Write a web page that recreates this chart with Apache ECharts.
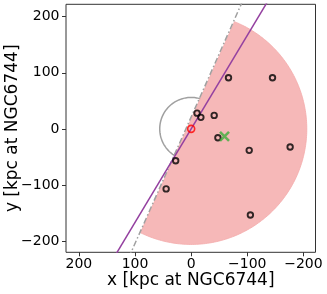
<!DOCTYPE html>
<html>
<head>
<meta charset="utf-8">
<script src="https://cdn.jsdelivr.net/npm/echarts@6/dist/echarts.min.js"></script>
<style>html,body{margin:0;padding:0;background:#fff;}#c{width:327px;height:294px;}</style>
</head>
<body>
<div id="c"></div>
<script>
// ---- data ----
const xTicks = [-200, -100, 0, 100, 200];
const yTicks = [-200, -100, 0, 100, 200];
const satX = [-66.5, -144.9, -10.5, -17.3, -41, -47.6, -103.4, -176.3, 27.6, 44.6, -105.5];
const satY = [91, 91, 28, 20.5, 24, -15.9, -38.3, -32.2, -56.9, -107, -153.4];
const hostPoint = [0, 0];
const greenPoint = [-59.4, -13.4];
const purpleLineX = [150, -150];
const purpleLineY = [-250, 250];
const grayLineX = [120.3, -101.5];
const grayLineY = [-250, 250];
const wedgeCenter = [0, 0];
const wedgeRadius = 206;
const wedgeStartDeg = 112;
const wedgeEndDeg = 296;
const ringCenter = [0, 0];
const ringRadius = 56;

function arcPoints(c, r, a0, a1, n) {
  const pts = [];
  for (let i = 0; i <= n; i++) {
    const a = (a0 + (a1 - a0) * i / n) * Math.PI / 180;
    pts.push([c[0] + r * Math.cos(a), c[1] + r * Math.sin(a)]);
  }
  return pts;
}
const minus = v => (v < 0 ? '\u2212' + Math.abs(v) : String(v));
const font = 'DejaVu Sans';

const chart = echarts.init(document.getElementById('c'));
chart.setOption({
  animation: false,
  backgroundColor: '#fff',
  grid: {left: 66, top: 4.3, width: 249.5, height: 248, outerBoundsMode: 'none', containLabel: false,
         show: true, borderColor: '#333', borderWidth: 1, backgroundColor: 'transparent'},
  xAxis: {
    type: 'value', inverse: true, min: -221.5, max: 223,
    name: 'x [kpc at NGC6744]', nameLocation: 'middle', nameGap: 20, nameMoveOverlap: false,
    nameTextStyle: {fontSize: 17, fontFamily: font, color: '#000'},
    axisLine: {show: false, onZero: false},
    splitLine: {show: false},
    axisTick: {show: true, inside: false, length: 4, lineStyle: {color: '#333', width: 1}, customValues: xTicks},
    axisLabel: {fontSize: 14, fontFamily: font, color: '#000', margin: 5, formatter: minus, customValues: xTicks}
  },
  yAxis: {
    type: 'value', min: -220, max: 222,
    name: 'y [kpc at NGC6744]', nameLocation: 'middle', nameGap: 45, nameRotate: 90, nameMoveOverlap: false,
    nameTextStyle: {fontSize: 17, fontFamily: font, color: '#000'},
    axisLine: {show: false, onZero: false},
    splitLine: {show: false},
    axisTick: {show: true, inside: false, length: 4, lineStyle: {color: '#333', width: 1}, customValues: yTicks},
    axisLabel: {fontSize: 14, fontFamily: font, color: '#000', margin: 6.5, formatter: minus, customValues: yTicks}
  },
  series: [
    {
      type: 'custom', z: 1, silent: true,
      data: [ringCenter],
      renderItem: function (params, api) {
        const pts = arcPoints(ringCenter, ringRadius, 0, 360, 180).map(p => api.coord(p));
        return {type: 'polygon', shape: {points: pts}, style: {fill: 'none', stroke: '#a0a0a0', lineWidth: 1.5}};
      }
    },
    {
      type: 'custom', z: 2, silent: true,
      data: [wedgeCenter],
      renderItem: function (params, api) {
        const pts = arcPoints(wedgeCenter, wedgeRadius, wedgeStartDeg, wedgeEndDeg, 200).map(p => api.coord(p));
        return {type: 'polygon', shape: {points: pts}, style: {fill: '#f6b8b8', stroke: '#f4abab', lineWidth: 0.8}};
      }
    },
    {
      type: 'line', z: 3, symbol: 'none', silent: true,
      data: grayLineX.map((x, i) => [x, grayLineY[i]]),
      lineStyle: {color: '#a0a0a0', width: 1.5, type: [6, 2.5, 1.5, 2.5]}
    },
    {
      type: 'line', z: 4, symbol: 'none', silent: true,
      data: purpleLineX.map((x, i) => [x, purpleLineY[i]]),
      lineStyle: {color: '#9440a0', width: 1.5}
    },
    {
      type: 'scatter', z: 5, symbol: 'circle', symbolSize: 5.5,
      data: satX.map((x, i) => [x, satY[i]]),
      itemStyle: {color: 'transparent', borderColor: '#000', borderWidth: 1.9}
    },
    {
      type: 'scatter', z: 6, symbol: 'circle', symbolSize: 7,
      data: [hostPoint],
      itemStyle: {color: 'transparent', borderColor: '#ff0000', borderWidth: 1.6}
    },
    {
      type: 'scatter', z: 6, symbol: 'path://M0,0L10,10M10,0L0,10', symbolSize: 9,
      data: [greenPoint],
      itemStyle: {color: 'transparent', borderColor: '#3fae3c', borderWidth: 2.6}
    }
  ]
});
</script>
</body>
</html>
